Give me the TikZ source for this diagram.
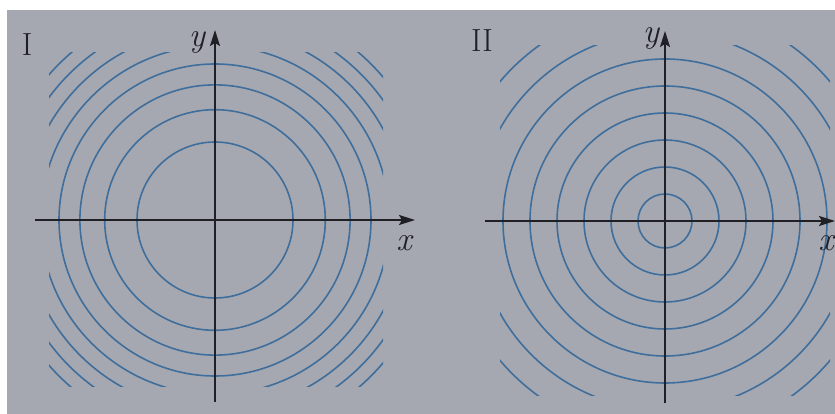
\documentclass[tikz,border=0pt]{standalone}
\usetikzlibrary{arrows.meta}
\definecolor{cpaper}{HTML}{A5A8B0}
\definecolor{cring}{HTML}{3F6E9C}
\definecolor{caxis}{HTML}{1F2026}
\tikzset{
  every picture/.style={x=1pt, y=1pt},
  ring/.style={draw=cring, line width=1.6pt},
  axis/.style={-{Stealth[length=16pt, width=10pt, inset=3pt]}, draw=caxis, line width=1.8pt},
  axlabel/.style={text=caxis, font=\fontsize{34}{40}\selectfont\itshape, inner sep=0pt},
  tag/.style={text=caxis, font=\fontsize{32}{38}\selectfont, inner sep=0pt},
}

\begin{document}
\begin{tikzpicture}
  \useasboundingbox (0,0) rectangle (835,414);
  \fill[cpaper] (7,0) rectangle (835,404); % page
  % panel I: f = x^2+y^2, equally spaced levels
  \begin{scope}[shift={(215,194)}]
    \begin{scope}
      \clip (-166,-167) rectangle (168,167);
      \foreach \n in {1,...,8} \draw[ring] (0,0) circle ({78*sqrt(\n)});
    \end{scope}
    \coordinate (xl1) at (-180,0); \coordinate (xr1) at (200,0);
    \coordinate (yb1) at (0,-182); \coordinate (yt1) at (0,190);
    \draw[axis] (xl1) -- (xr1);
    \draw[axis] (yb1) -- (yt1);
    \node[axlabel] (xlab1) at (189,-23) {x};
    \node[axlabel] (ylab1) at (-18,178) {y};
  \end{scope}
  \node[tag] (tagI) at (27,369) {I};
  % panel II: cone, rings at equal steps of r
  \begin{scope}[shift={(665,193)}]
    \begin{scope}
      \clip (-165,-175) rectangle (165,175);
      \foreach \n in {1,...,8} \draw[ring] (0,0) circle ({27*\n});
    \end{scope}
    \coordinate (xl2) at (-180,0); \coordinate (xr2) at (170,0);
    \coordinate (yb2) at (0,-182); \coordinate (yt2) at (0,190);
    \draw[axis] (xl2) -- (xr2);
    \draw[axis] (yb2) -- (yt2);
    \node[axlabel] (xlab2) at (161,-22) {x};
    \node[axlabel] (ylab2) at (-14,183) {y};
  \end{scope}
  \node[tag] (tagII) at (482,373) {II};
\end{tikzpicture}
\end{document}
